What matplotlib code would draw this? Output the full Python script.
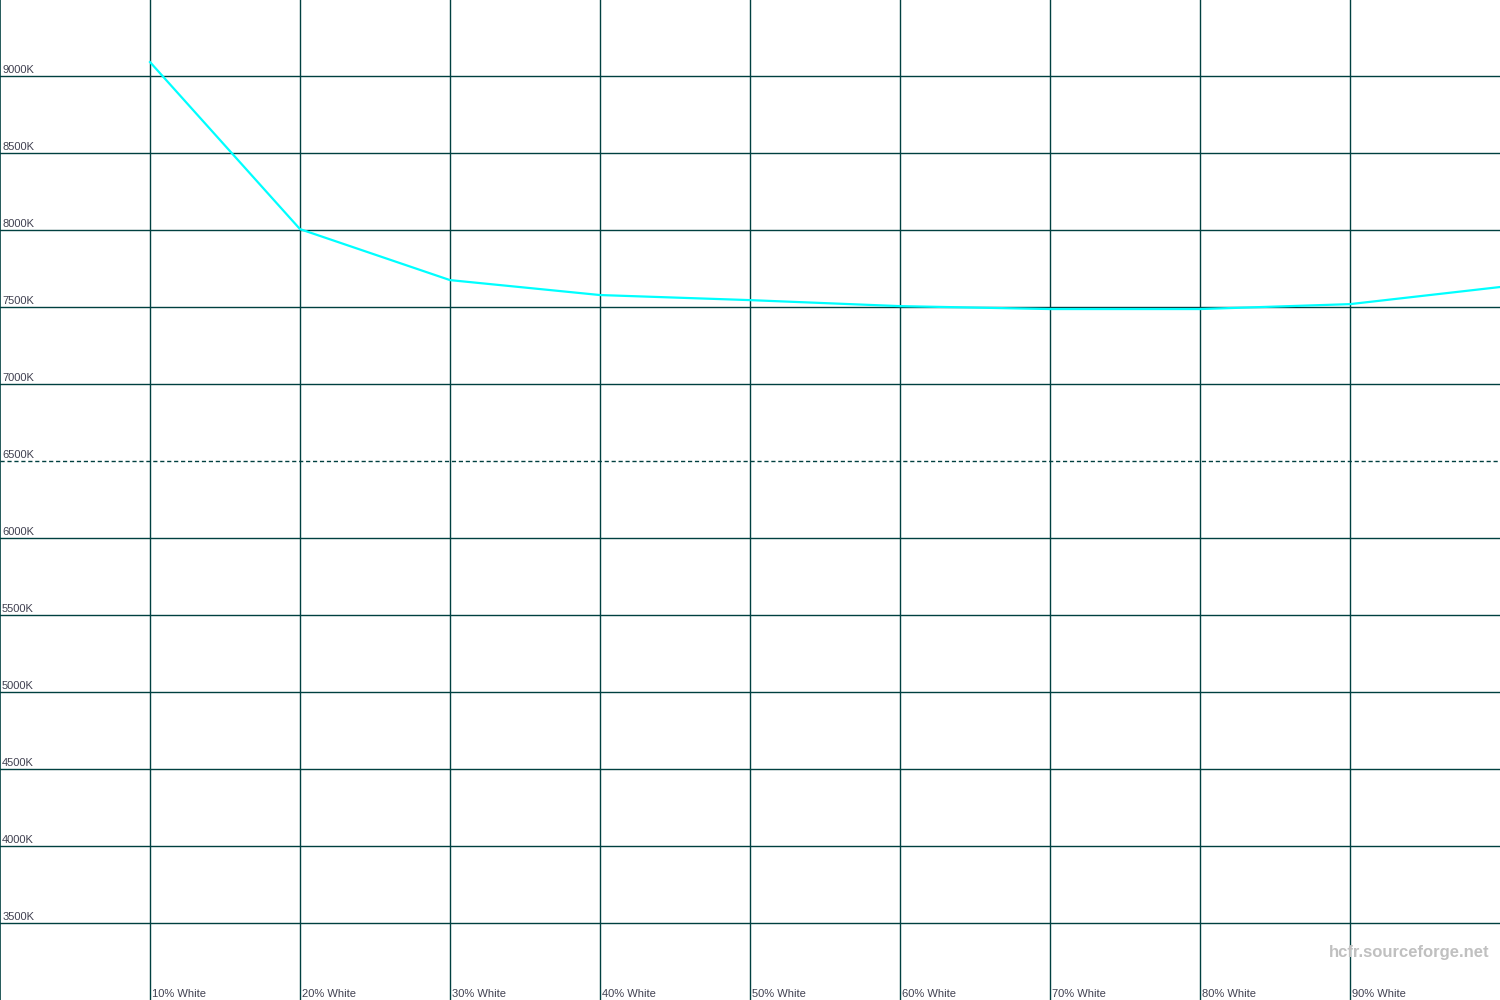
import matplotlib
matplotlib.use("Agg")
import matplotlib.pyplot as plt

levels = [10, 20, 30, 40, 50, 60, 70, 80, 90, 100]
temps = [9091, 8006, 7675, 7578, 7545, 7506, 7487, 7487, 7519, 7630]
y_ticks = [3500, 4000, 4500, 5000, 5500, 6000, 6500, 7000, 7500, 8000, 8500, 9000]
x_labels = ["10% White", "20% White", "30% White", "40% White", "50% White",
            "60% White", "70% White", "80% White", "90% White"]

grid_color = "#004040"
text_color = "#404050"

fig = plt.figure(figsize=(15, 10), dpi=100)
ax = fig.add_axes([0, 0, 1, 1])
ax.set_xlim(0, 100)
ax.set_ylim(3000, 9494)
ax.axis("off")

ax.axvline(0, color=grid_color, lw=1.2)
for x in levels[:-1]:
    ax.axvline(x, color=grid_color, lw=1.0)
for y in y_ticks:
    ls = (0, (3, 2)) if y == 6500 else "-"
    ax.axhline(y, color=grid_color, lw=1.0, ls=ls)
    ax.annotate(f"{y}K", xy=(0, y), xytext=(1.5, 1), textcoords="offset points",
                fontsize=8, color=text_color, family="Liberation Sans",
                ha="left", va="bottom")
for x, lab in zip(levels[:-1], x_labels):
    ax.annotate(lab, xy=(x, 3000), xytext=(1.5, 0.5), textcoords="offset points",
                fontsize=8, color=text_color, family="Liberation Sans",
                ha="left", va="bottom")

ax.plot(levels, temps, color="#00ffff", lw=1.6, solid_joinstyle="round")

fig.text(0.993, 0.048, "hcfr.sourceforge.net", fontsize=12, fontweight="bold",
         color="#c0c0c0", family="Liberation Sans", ha="right", va="center")

fig.savefig("out.png", dpi=100, facecolor="white")
